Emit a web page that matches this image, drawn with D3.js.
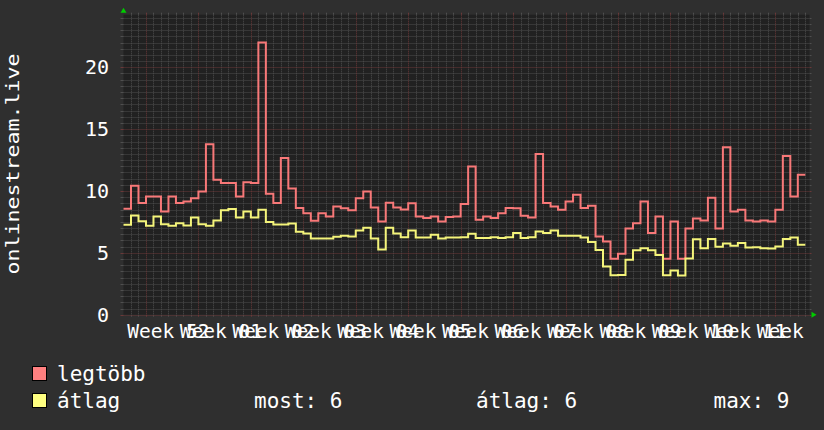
<!DOCTYPE html>
<html><head><meta charset="utf-8">
<script src="https://cdn.jsdelivr.net/npm/d3@7"></script>
<style>html,body{margin:0;padding:0;background:#2f2f2f;}svg{display:block}</style>
</head><body>
<svg id="c" width="824" height="430"></svg>
<script>
// ---- data ----
const maxValues = [
  8.56,10.42,9.02,9.56,9.56,8.35,9.56,9.02,9.15,9.42,
  9.96,13.78,10.9,10.64,10.64,9.56,10.7,10.64,22.0,9.77,
  9.02,12.66,10.2,8.62,8.21,7.6,8.21,7.94,8.75,8.6,
  8.45,9.42,9.96,8.66,7.54,9.05,8.66,8.5,9.0,7.94,
  7.81,7.94,7.54,7.89,7.94,8.95,11.98,7.67,7.94,7.81,
  8.21,8.62,8.6,8.0,7.86,12.98,9.02,8.75,8.48,9.15,
  9.69,8.62,8.8,6.32,5.92,4.52,4.93,6.97,7.4,9.15,
  6.6,7.94,4.52,7.54,4.52,6.97,7.78,7.62,9.45,6.97,
  13.54,8.35,8.48,7.62,7.54,7.62,7.54,8.48,12.82,9.56,
  11.31
];
const avgValues = [
  7.27,8.02,7.56,7.2,7.94,7.32,7.19,7.40,7.22,7.86,
  7.32,7.19,7.62,8.45,8.54,7.86,8.35,7.86,8.48,7.5,
  7.3,7.3,7.38,6.7,6.56,6.16,6.16,6.16,6.3,6.38,
  6.33,6.81,7.02,6.16,5.28,7.02,6.56,6.26,6.81,6.25,
  6.25,6.46,6.16,6.25,6.25,6.27,6.54,6.19,6.19,6.27,
  6.19,6.27,6.6,6.19,6.27,6.73,6.6,6.81,6.38,6.38,
  6.38,6.25,5.87,5.22,3.9,3.18,3.2,4.44,5.2,5.38,
  5.2,4.82,3.18,3.58,3.16,4.54,6.1,5.38,6.12,5.5,
  5.75,5.57,5.79,5.44,5.46,5.38,5.36,5.52,6.11,6.25,
  5.65
];
const yTicks = [0, 5, 10, 15, 20];
const weekLabels = ["Week 52","Week 01","Week 02","Week 03","Week 04","Week 05","Week 06",
                    "Week 07","Week 08","Week 09","Week 10","Week 11","Week 12"];
const yAxisLabel = "onlinestream.live";
const seriesNames = ["legtöbb", "átlag"];
const statLabels = ["most: 6", "átlag: 6", "max: 9"];

// ---- layout ----
const X0 = 123.5, X1 = 809.5, Y0 = 314.7, Y1 = 14.7;
const start = new Date(Date.UTC(2023, 11, 22));
const end = new Date(start.getTime() + 91.56 * 864e5);
const x = d3.scaleUtc().domain([start, end]).range([X0, X1]);
const y = d3.scaleLinear().domain([0, 24.25]).range([Y0, Y1]);

const MONO = "'DejaVu Sans Mono', monospace";
const svg = d3.select("#c");
svg.append("rect").attr("width", 824).attr("height", 430).attr("fill", "#2f2f2f");
svg.append("rect").attr("x", X0).attr("y", Y1).attr("width", X1 - X0).attr("height", Y0 - Y1).attr("fill", "#212121");

const g = svg.append("g");
const minorCol = "#4f4f4f", majorCol = "#6a3838";

// vertical grid
const days = d3.utcDay.range(d3.utcDay.offset(start, 1), end).filter(d => d.getUTCDay() !== 1);
const mondays = d3.utcMonday.range(start, end);
function vline(d, col) {
  const px = Math.round(x(d)) + 0.5;
  g.append("line").attr("x1", px).attr("x2", px).attr("y1", Y1).attr("y2", Y0)
    .attr("stroke", col).attr("stroke-dasharray", "1,1");
  g.append("line").attr("x1", px).attr("x2", px).attr("y1", Y1 - 2).attr("y2", Y1).attr("stroke", col);
  g.append("line").attr("x1", px).attr("x2", px).attr("y1", Y0).attr("y2", Y0 + 2).attr("stroke", col);
}
days.forEach(d => vline(d, minorCol));

// horizontal grid
const minorY = d3.range(0.5, 24.25, 0.5).filter(v => v % 5 !== 0);
function hline(v, col) {
  const py = Math.round(y(v)) + 0.5;
  g.append("line").attr("x1", X0).attr("x2", X1).attr("y1", py).attr("y2", py)
    .attr("stroke", col).attr("stroke-dasharray", "1,1");
  g.append("line").attr("x1", X0 - 3).attr("x2", X0).attr("y1", py).attr("y2", py).attr("stroke", col);
  g.append("line").attr("x1", X1).attr("x2", X1 + 2).attr("y1", py).attr("y2", py).attr("stroke", col);
}
minorY.forEach(v => hline(v, minorCol));
mondays.forEach(d => vline(d, majorCol));
yTicks.forEach(v => hline(v, majorCol));

// series
function pts(arr) {
  const p = arr.map((v, i) => [d3.utcDay.offset(start, i), v]);
  p.push([d3.utcDay.offset(start, arr.length), arr[arr.length - 1]]);
  return p;
}
const line = d3.line().x(d => x(d[0])).y(d => y(d[1])).curve(d3.curveStepAfter);
svg.append("path").attr("d", line(pts(maxValues))).attr("fill", "none")
  .attr("stroke", "#f87878").attr("stroke-width", 2);
svg.append("path").attr("d", line(pts(avgValues))).attr("fill", "none")
  .attr("stroke", "#f4f47a").attr("stroke-width", 2);

// arrows
svg.append("path").attr("fill", "#00cc00")
  .attr("d", `M${X1 + 2},${Y0 - 3}L${X1 + 2},${Y0 + 3}L${X1 + 7},${Y0}Z`);
svg.append("path").attr("fill", "#00cc00")
  .attr("d", `M${X0 - 3},${Y1 - 2}L${X0 + 3},${Y1 - 2}L${X0},${Y1 - 7}Z`);

// y tick labels
svg.append("g").selectAll("text").data(yTicks).join("text")
  .attr("x", 109).attr("y", d => y(d)).attr("dy", "0.36em")
  .attr("text-anchor", "end").attr("fill", "#ffffff")
  .style("font-family", MONO).style("font-size", "20px").text(d => d);

// x labels (clipped at the picture's right side)
svg.append("clipPath").attr("id", "xclip").append("rect")
  .attr("x", 0).attr("y", 316).attr("width", 812).attr("height", 30);
svg.append("g").attr("clip-path", "url(#xclip)").selectAll("text").data(mondays).join("text")
  .attr("x", d => x(d3.utcDay.offset(d, 3))).attr("y", 338)
  .attr("text-anchor", "middle").attr("fill", "#ffffff")
  .style("font-family", MONO).style("font-size", "19.5px")
  .text((d, i) => weekLabels[i]);

// y axis label
svg.append("text").attr("transform", "translate(18.5,164) rotate(-90) scale(1.2,1)")
  .attr("text-anchor", "middle").attr("fill", "#ffffff")
  .style("font-family", MONO).style("font-size", "18px").text(yAxisLabel);

// legend
const legCols = ["#ff8080", "#ffff80"];
const legY = [381, 408];
seriesNames.forEach((n, i) => {
  svg.append("rect").attr("x", 32.5).attr("y", legY[i] - 14.5).attr("width", 14).attr("height", 14)
    .attr("fill", legCols[i]).attr("stroke", "#000").attr("stroke-width", 1);
  svg.append("text").attr("x", 57).attr("y", legY[i]).attr("fill", "#fff")
    .style("font-family", MONO).style("font-size", "21px").text(n);
});
const statX = [254, 476, 713.5];
statLabels.forEach((s, i) => {
  svg.append("text").attr("x", statX[i]).attr("y", 408).attr("fill", "#fff")
    .style("font-family", MONO).style("font-size", "21px").text(s);
});
</script>
</body></html>
